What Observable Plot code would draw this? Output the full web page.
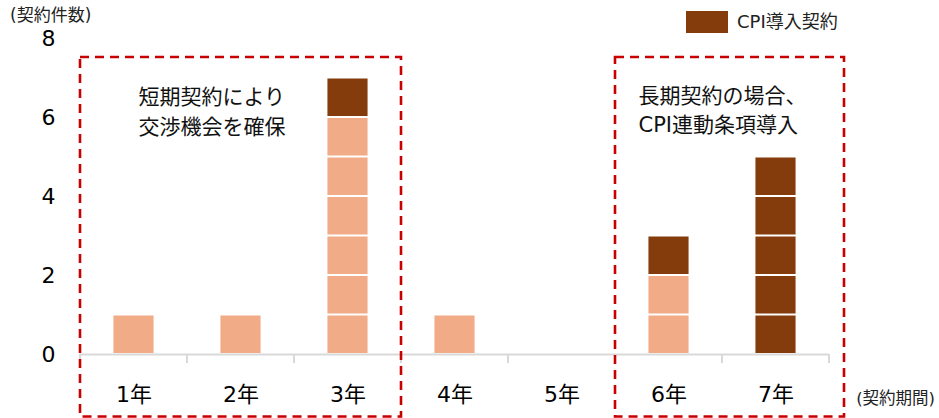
<!DOCTYPE html>
<html><head><meta charset="utf-8">
<script src="https://cdn.jsdelivr.net/npm/d3@7"></script>
<script src="https://cdn.jsdelivr.net/npm/@observablehq/plot@0.6"></script>
<style>
html,body{margin:0;padding:0;background:#fff;}
#chart svg{display:block;}
</style></head><body><div id="chart"></div>
<script>
const categories = ["1年","2年","3年","4年","5年","6年","7年"];
const otherCounts = [1,1,6,1,0,2,0];
const cpiCounts = [0,0,1,0,0,1,5];
const yTicks = [0,2,4,6,8];
const seriesKeys = ["other","cpi"];
const legendLabel = "CPI導入契約";
const yTitle = "(契約件数)";
const xTitle = "(契約期間)";
const note1 = ["短期契約により","交渉機会を確保"];
const note2 = ["長期契約の場合、","CPI連動条項導入"];

const LIGHT = "#F1AB86", DARK = "#843C0C", BOXRED = "#C80000", AXISGRAY = "#D9D9D9";
const FONT = '"DejaVu Sans","Noto Sans CJK JP",sans-serif';

// one row per contract, stacked as unit blocks
const units = [];
categories.forEach((c, i) => {
  for (let k = 0; k < otherCounts[i]; k++) units.push({cat: c, type: "other"});
  for (let k = 0; k < cpiCounts[i]; k++) units.push({cat: c, type: "cpi"});
});

const chart = Plot.plot({
  width: 939, height: 418,
  marginLeft: 80, marginRight: 110, marginTop: 38, marginBottom: 64,
  style: {fontFamily: FONT, background: "#fff", color: "#000", overflow: "visible"},
  x: {domain: categories, paddingInner: 0.625, paddingOuter: 0.3125, round: false, label: null},
  y: {domain: [0, 8], label: null},
  color: {domain: seriesKeys, range: [LIGHT, DARK]},
  marks: [
    Plot.barY(units, {x: "cat", y: 1, fill: "type", insetTop: 1, insetBottom: 1}),
    Plot.ruleY([0], {stroke: AXISGRAY, strokeWidth: 2}),
    Plot.axisY({ticks: yTicks, tickSize: 0, tickPadding: 25, fontSize: 22, label: null, fill: "#000"}),
    Plot.axisX({tickSize: 0, tickPadding: 32, fontSize: 22, label: null, fill: "#000"}),
    Plot.text([note1.join("\n")], {x: [categories[0]], y: 6.87, text: d => d, textAnchor: "start",
      lineAnchor: "top", dx: 4.5, fontSize: 21, lineHeight: 1.405, fill: "#111"}),
    Plot.text([note2.join("\n")], {x: [categories[5]], y: 6.9, text: d => d, textAnchor: "start",
      lineAnchor: "top", dx: -30.5, fontSize: 21, lineHeight: 1.405, fill: "#111"})
  ]
});
document.getElementById("chart").appendChild(chart);

const svg = d3.select(chart);
const xs = chart.scale("x"), ys = chart.scale("y");
const step = xs.step ?? ((xs.range[1] - xs.range[0]) / categories.length);
const bw = xs.bandwidth ?? step * 0.375;
const bandLeft = c => xs.apply(c) + bw / 2 - step / 2;
const bandRight = c => xs.apply(c) + bw / 2 + step / 2;
const y0 = ys.apply(0);

// category boundary tick marks
const tickG = svg.append("g");
for (let k = 0; k <= categories.length; k++) {
  const x = bandLeft(categories[0]) + k * step;
  tickG.append("line").attr("x1", x).attr("x2", x).attr("y1", y0).attr("y2", y0 + 9)
    .attr("stroke", AXISGRAY).attr("stroke-width", 2);
}

// axis titles
svg.append("text").attr("x", 10).attr("y", 15.5).attr("dy", "0.35em").attr("text-anchor", "start")
  .attr("font-size", 17).attr("font-family", FONT).attr("fill", "#222").text(yTitle);
svg.append("text").attr("x", 935).attr("y", 398).attr("dy", "0.35em").attr("text-anchor", "end")
  .attr("font-size", 16.5).attr("font-family", FONT).attr("fill", "#222").text(xTitle);

// legend
svg.append("rect").attr("x", 686).attr("y", 11).attr("width", 42).attr("height", 22).attr("fill", DARK);
svg.append("text").attr("x", 737).attr("y", 22).attr("dy", "0.35em").attr("text-anchor", "start")
  .attr("font-size", 18).attr("font-family", FONT).attr("fill", "#222").text(legendLabel);

// dashed highlight boxes
const boxTop = ys.apply(7.52), boxBottom = y0 + 62.5;
function box(x1, x2) {
  svg.append("rect").attr("x", x1).attr("y", boxTop).attr("width", x2 - x1).attr("height", boxBottom - boxTop)
    .attr("fill", "none").attr("stroke", BOXRED).attr("stroke-width", 2.6).attr("stroke-dasharray", "9 6");
}
box(bandLeft(categories[0]), bandRight(categories[2]));
box(bandLeft(categories[5]), bandRight(categories[6]) + 15);
</script></body></html>
